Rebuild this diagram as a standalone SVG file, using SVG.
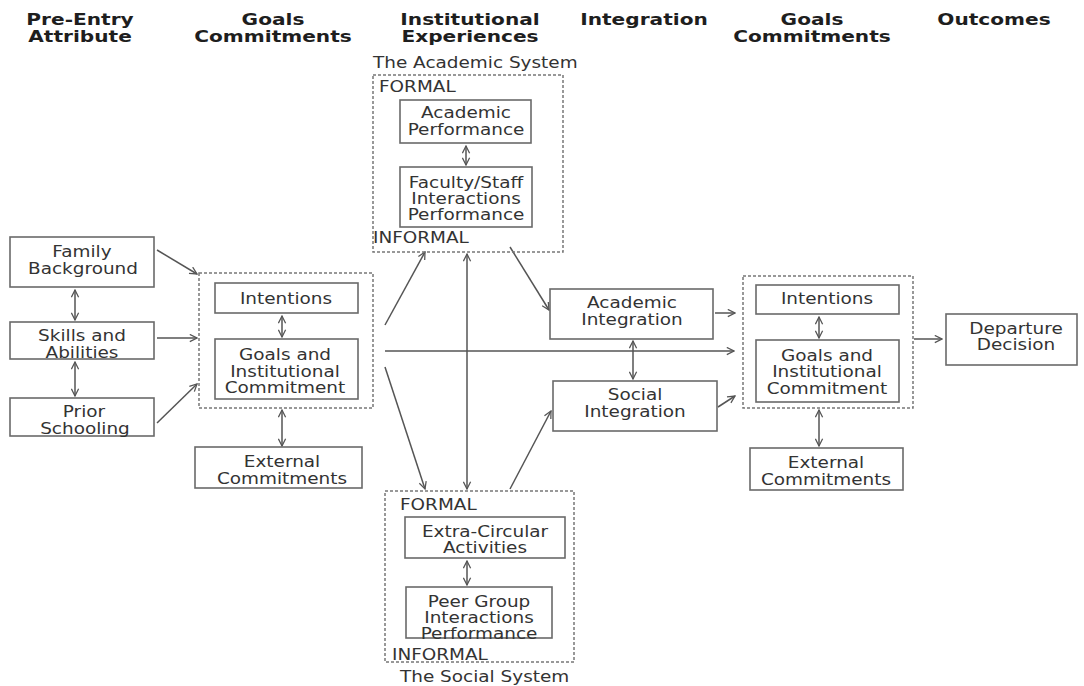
<svg xmlns="http://www.w3.org/2000/svg" width="1084" height="686" viewBox="0 0 1084 686">
<style>
.bg{fill:#ffffff}
.box{fill:#ffffff;stroke:#6a6a6a;stroke-width:1.6}
.grp{fill:none;stroke:#777;stroke-width:1.5;stroke-dasharray:3 2}
.t{font-family:"DejaVu Sans","Verdana",sans-serif;font-size:15.5px;fill:#333;text-anchor:middle}
.ts{font-family:"DejaVu Sans","Verdana",sans-serif;font-size:15.5px;fill:#333;text-anchor:start}
.h{font-family:"DejaVu Sans","Verdana",sans-serif;font-size:16.5px;font-weight:bold;fill:#1e1e1e;text-anchor:middle}
.c{fill:none;stroke:#555;stroke-width:1.5}
</style>
<defs>
<marker id="ah" viewBox="0 0 10 10" refX="9" refY="5" markerWidth="9" markerHeight="9" markerUnits="userSpaceOnUse" orient="auto-start-reverse">
<path d="M1,1 L9,5 L1,9" fill="none" stroke="#555" stroke-width="1.4"/>
</marker>
</defs>
<rect class="bg" x="0" y="0" width="1084" height="686"/>

<g id="headers">
<text class="h" transform="translate(80,25) scale(1.22,1)">Pre-Entry</text>
<text class="h" transform="translate(80,42) scale(1.22,1)">Attribute</text>
<text class="h" transform="translate(273,25) scale(1.22,1)">Goals</text>
<text class="h" transform="translate(273,42) scale(1.22,1)">Commitments</text>
<text class="h" transform="translate(470,25) scale(1.22,1)">Institutional</text>
<text class="h" transform="translate(470,42) scale(1.22,1)">Experiences</text>
<text class="h" transform="translate(644,25) scale(1.22,1)">Integration</text>
<text class="h" transform="translate(812,25) scale(1.22,1)">Goals</text>
<text class="h" transform="translate(812,42) scale(1.22,1)">Commitments</text>
<text class="h" transform="translate(994,25) scale(1.22,1)">Outcomes</text>
</g>

<g id="connectors">
<line class="c" x1="157" y1="250" x2="197" y2="274" marker-end="url(#ah)"/>
<line class="c" x1="157" y1="338" x2="197" y2="338" marker-end="url(#ah)"/>
<line class="c" x1="157" y1="423" x2="197" y2="384" marker-end="url(#ah)"/>
<line class="c" x1="75" y1="290" x2="75" y2="320" marker-start="url(#ah)" marker-end="url(#ah)"/>
<line class="c" x1="75" y1="362" x2="75" y2="396" marker-start="url(#ah)" marker-end="url(#ah)"/>
<line class="c" x1="282" y1="316" x2="282" y2="337" marker-start="url(#ah)" marker-end="url(#ah)"/>
<line class="c" x1="282" y1="410" x2="282" y2="446" marker-start="url(#ah)" marker-end="url(#ah)"/>
<line class="c" x1="385" y1="325" x2="425" y2="252" marker-end="url(#ah)"/>
<line class="c" x1="385" y1="367" x2="425" y2="489" marker-end="url(#ah)"/>
<line class="c" x1="385" y1="351" x2="734" y2="351" marker-end="url(#ah)"/>
<line class="c" x1="467" y1="254" x2="467" y2="489" marker-start="url(#ah)" marker-end="url(#ah)"/>
<line class="c" x1="510" y1="247" x2="549" y2="310" marker-end="url(#ah)"/>
<line class="c" x1="510" y1="489" x2="551" y2="411" marker-end="url(#ah)"/>
<line class="c" x1="633" y1="341" x2="633" y2="379" marker-start="url(#ah)" marker-end="url(#ah)"/>
<line class="c" x1="715" y1="313" x2="735" y2="313" marker-end="url(#ah)"/>
<line class="c" x1="718" y1="407" x2="735" y2="396" marker-end="url(#ah)"/>
<line class="c" x1="819" y1="317" x2="819" y2="338" marker-start="url(#ah)" marker-end="url(#ah)"/>
<line class="c" x1="819" y1="410" x2="819" y2="446" marker-start="url(#ah)" marker-end="url(#ah)"/>
<line class="c" x1="914" y1="339" x2="942" y2="339" marker-end="url(#ah)"/>
<line class="c" x1="466" y1="146" x2="466" y2="165" marker-start="url(#ah)" marker-end="url(#ah)"/>
<line class="c" x1="467" y1="561" x2="467" y2="585" marker-start="url(#ah)" marker-end="url(#ah)"/>
</g>

<g id="family-background">
<rect class="box" x="10" y="237" width="144" height="50"/>
<text class="t" transform="translate(82,257) scale(1.19,1)">Family</text>
<text class="t" transform="translate(83,274) scale(1.19,1)">Background</text>
</g>
<g id="skills-abilities">
<rect class="box" x="10" y="322" width="144" height="37"/>
<text class="t" transform="translate(82,341) scale(1.19,1)">Skills and</text>
<text class="t" transform="translate(82,358) scale(1.19,1)">Abilities</text>
</g>
<g id="prior-schooling">
<rect class="box" x="10" y="398" width="144" height="38"/>
<text class="t" transform="translate(84,417) scale(1.19,1)">Prior</text>
<text class="t" transform="translate(85,434) scale(1.19,1)">Schooling</text>
</g>

<g id="goals-commitments-left">
<rect class="grp" x="199" y="273" width="174" height="135"/>
<g id="intentions-left">
<rect class="box" x="215" y="283" width="143" height="30"/>
<text class="t" transform="translate(286,304) scale(1.19,1)">Intentions</text>
</g>
<g id="goals-institutional-left">
<rect class="box" x="215" y="339" width="143" height="60"/>
<text class="t" transform="translate(285,360) scale(1.19,1)">Goals and</text>
<text class="t" transform="translate(285,377) scale(1.19,1)">Institutional</text>
<text class="t" transform="translate(285,393) scale(1.19,1)">Commitment</text>
</g>
</g>
<g id="external-left">
<rect class="box" x="195" y="447" width="167" height="41"/>
<text class="t" transform="translate(282,467) scale(1.19,1)">External</text>
<text class="t" transform="translate(282,484) scale(1.19,1)">Commitments</text>
</g>

<g id="academic-system">
<rect class="grp" x="373" y="75" width="190" height="177"/>
<text class="ts" transform="translate(373,68) scale(1.19,1)">The Academic System</text>
<text class="ts" transform="translate(379,92) scale(1.19,1)">FORMAL</text>
<text class="ts" transform="translate(373,243) scale(1.19,1)">INFORMAL</text>
<g id="academic-performance">
<rect class="box" x="400" y="100" width="131" height="43"/>
<text class="t" transform="translate(466,118) scale(1.19,1)">Academic</text>
<text class="t" transform="translate(466,135) scale(1.19,1)">Performance</text>
</g>
<g id="faculty-staff">
<rect class="box" x="400" y="167" width="132" height="60"/>
<text class="t" transform="translate(466,188) scale(1.19,1)">Faculty/Staff</text>
<text class="t" transform="translate(466,204) scale(1.19,1)">Interactions</text>
<text class="t" transform="translate(466,220) scale(1.19,1)">Performance</text>
</g>
</g>

<g id="social-system">
<rect class="grp" x="385" y="491" width="189" height="171"/>
<text class="ts" transform="translate(400,510) scale(1.19,1)">FORMAL</text>
<text class="ts" transform="translate(392,660) scale(1.19,1)">INFORMAL</text>
<text class="ts" transform="translate(400,682) scale(1.19,1)">The Social System</text>
<g id="extra-circular">
<rect class="box" x="405" y="517" width="160" height="41"/>
<text class="t" transform="translate(485,537) scale(1.19,1)">Extra-Circular</text>
<text class="t" transform="translate(485,553) scale(1.19,1)">Activities</text>
</g>
<g id="peer-group">
<rect class="box" x="406" y="587" width="146" height="51"/>
<text class="t" transform="translate(479,607) scale(1.19,1)">Peer Group</text>
<text class="t" transform="translate(479,623) scale(1.19,1)">Interactions</text>
<text class="t" transform="translate(479,639) scale(1.19,1)">Performance</text>
</g>
</g>

<g id="academic-integration">
<rect class="box" x="550" y="289" width="163" height="50"/>
<text class="t" transform="translate(632,308) scale(1.19,1)">Academic</text>
<text class="t" transform="translate(632,325) scale(1.19,1)">Integration</text>
</g>
<g id="social-integration">
<rect class="box" x="553" y="381" width="164" height="50"/>
<text class="t" transform="translate(635,400) scale(1.19,1)">Social</text>
<text class="t" transform="translate(635,417) scale(1.19,1)">Integration</text>
</g>

<g id="goals-commitments-right">
<rect class="grp" x="743" y="276" width="170" height="132"/>
<g id="intentions-right">
<rect class="box" x="756" y="285" width="143" height="29"/>
<text class="t" transform="translate(827,304) scale(1.19,1)">Intentions</text>
</g>
<g id="goals-institutional-right">
<rect class="box" x="756" y="340" width="143" height="62"/>
<text class="t" transform="translate(827,361) scale(1.19,1)">Goals and</text>
<text class="t" transform="translate(827,377) scale(1.19,1)">Institutional</text>
<text class="t" transform="translate(827,394) scale(1.19,1)">Commitment</text>
</g>
</g>
<g id="external-right">
<rect class="box" x="750" y="448" width="153" height="42"/>
<text class="t" transform="translate(826,468) scale(1.19,1)">External</text>
<text class="t" transform="translate(826,485) scale(1.19,1)">Commitments</text>
</g>

<g id="departure-decision">
<rect class="box" x="946" y="314" width="131" height="51"/>
<text class="t" transform="translate(1016,334) scale(1.19,1)">Departure</text>
<text class="t" transform="translate(1016,350) scale(1.19,1)">Decision</text>
</g>
</svg>
